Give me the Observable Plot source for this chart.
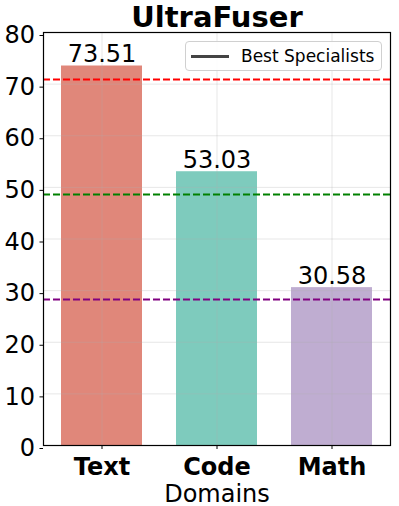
<!DOCTYPE html>
<html>
<head>
<meta charset="utf-8">
<script src="https://cdn.jsdelivr.net/npm/d3@7"></script>
<script src="https://cdn.jsdelivr.net/npm/@observablehq/plot@0.6"></script>
<style>
  html, body { margin: 0; padding: 0; background: #fff; }
  #wrap { position: relative; width: 399px; height: 506px; font-family: "DejaVu Sans", sans-serif; }
  #legend { position: absolute; left: 185px; top: 41px; width: 197px; height: 30px;
    border: 1px solid #d0d0d0; border-radius: 4px; background: rgba(255,255,255,0.85);
    box-sizing: border-box; display: flex; align-items: center; font-size: 17px; color: #000; }
  #legend .sw { width: 38px; height: 0; border-top: 3px solid #444; margin-left: 5px; margin-right: 12px; }
</style>
</head>
<body>
<div id="wrap"></div>
<script>
const title = "UltraFuser";
const domains = ["Text", "Code", "Math"];
const scores = [73.51, 53.03, 30.58];
const barColors = ["#E0877A", "#7ECBBD", "#BFADD1"];
const specialistScores = [70.9, 48.6, 28.3];
const specialistColors = ["#FF0000", "#008000", "#800080"];
const yTicks = [0, 10, 20, 30, 40, 50, 60, 70, 80];
const xLabel = "Domains";
const legendLabel = "Best Specialists";

const bars = domains.map((d, i) => ({domain: d, score: scores[i], color: barColors[i]}));
const specs = domains.map((d, i) => ({domain: d, score: specialistScores[i], color: specialistColors[i]}));

const chart = Plot.plot({
  width: 399,
  height: 506,
  marginLeft: 43,
  marginRight: 9,
  marginTop: 32,
  marginBottom: 61,
  style: {fontFamily: "DejaVu Sans, sans-serif", color: "#000", background: "#fff"},
  x: {domain: domains, paddingInner: 0.3, paddingOuter: 0.15},
  y: {domain: [0, 80]},
  marks: [
    Plot.barY(bars, {x: "domain", y: "score", fill: "color"}),
    Plot.gridY(yTicks, {stroke: "#b0b0b0", strokeOpacity: 0.3, strokeWidth: 1}),
    Plot.gridX(domains, {stroke: "#b0b0b0", strokeOpacity: 0.3, strokeWidth: 1}),
    Plot.ruleY(specs, {y: "score", stroke: "color", strokeWidth: 2, strokeDasharray: "7,3"}),
    Plot.text(bars, {x: "domain", y: "score", text: d => d.score.toFixed(2), lineAnchor: "bottom", dy: -4, fontSize: 24, fill: "#000"}),
    Plot.axisY(yTicks, {tickSize: 3.5, tickPadding: 5, fontSize: 24, label: null, dy: 3}),
    Plot.axisX({tickSize: 4, tickPadding: 8, fontSize: 24, fontWeight: "bold", label: null}),
    Plot.text([xLabel], {frameAnchor: "bottom", lineAnchor: "bottom", dy: 56, fontSize: 24}),
    Plot.text([title], {frameAnchor: "top", lineAnchor: "bottom", dy: -6, fontSize: 29, fontWeight: "bold"}),
    Plot.frame({stroke: "#000", strokeWidth: 1.2})
  ]
});

const wrap = document.getElementById("wrap");
wrap.appendChild(chart);
const legend = document.createElement("div");
legend.id = "legend";
legend.innerHTML = `<span class="sw"></span><span>${legendLabel}</span>`;
wrap.appendChild(legend);
</script>
</body>
</html>
